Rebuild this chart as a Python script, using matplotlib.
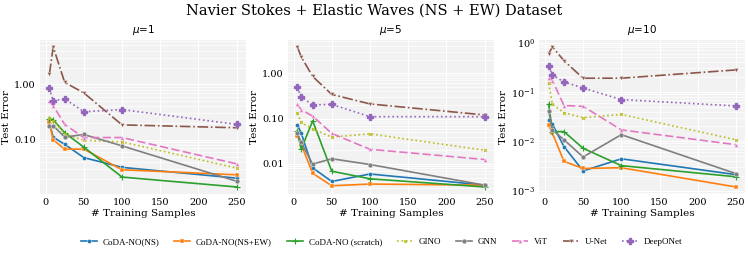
import matplotlib
matplotlib.use("Agg")
import matplotlib.pyplot as plt
from matplotlib.ticker import FormatStrFormatter, NullFormatter

x_samples = [5, 10, 25, 50, 100, 250]
mu_titles = [r"$\mu$=1", r"$\mu$=5", r"$\mu$=10"]
models = ["CoDA-NO(NS)", "CoDA-NO(NS+EW)", "CoDA-NO (scratch)", "GINO", "GNN", "ViT", "U-Net", "DeepONet"]

# values per mu panel
mu1 = {
    "CoDA-NO(NS)":       [0.20, 0.112, 0.083, 0.048, 0.032, 0.0205],
    "CoDA-NO(NS+EW)":    [0.206, 0.10, 0.068, 0.068, 0.029, 0.0235],
    "CoDA-NO (scratch)": [0.24, 0.23, 0.134, 0.074, 0.0214, 0.0142],
    "GINO":              [0.25, 0.22, 0.128, 0.098, 0.092, 0.031],
    "GNN":               [0.18, 0.18, 0.112, 0.125, 0.078, 0.018],
    "ViT":               [0.50, 0.41, 0.19, 0.11, 0.11, 0.037],
    "U-Net":             [1.52, 4.7, 1.08, 0.70, 0.186, 0.165],
    "DeepONet":          [0.84, 0.50, 0.55, 0.32, 0.35, 0.19],
}
mu5 = {
    "CoDA-NO(NS)":       [0.073, 0.048, 0.0082, 0.0041, 0.006, 0.0034],
    "CoDA-NO(NS+EW)":    [0.042, 0.027, 0.0062, 0.0033, 0.0036, 0.0034],
    "CoDA-NO (scratch)": [0.054, 0.021, 0.089, 0.0069, 0.0047, 0.0031],
    "GINO":              [0.13, 0.082, 0.059, 0.039, 0.046, 0.020],
    "GNN":               [0.047, 0.030, 0.0099, 0.013, 0.0097, 0.0034],
    "ViT":               [0.21, 0.157, 0.113, 0.047, 0.021, 0.0125],
    "U-Net":             [3.8, 2.3, 0.85, 0.34, 0.21, 0.12],
    "DeepONet":          [0.49, 0.30, 0.20, 0.205, 0.11, 0.11],
}
mu10 = {
    "CoDA-NO(NS)":       [0.027, 0.022, 0.0078, 0.0025, 0.0044, 0.0021],
    "CoDA-NO(NS+EW)":    [0.021, 0.0145, 0.0039, 0.0028, 0.0029, 0.00118],
    "CoDA-NO (scratch)": [0.056, 0.0156, 0.0157, 0.0072, 0.0032, 0.0019],
    "GINO":              [0.15, 0.056, 0.038, 0.030, 0.035, 0.0107],
    "GNN":               [0.041, 0.017, 0.0107, 0.0048, 0.0136, 0.0022],
    "ViT":               [0.19, 0.17, 0.053, 0.051, 0.017, 0.0085],
    "U-Net":             [0.60, 0.82, 0.43, 0.19, 0.19, 0.28],
    "DeepONet":          [0.33, 0.22, 0.16, 0.12, 0.070, 0.052],
}
panels = [mu1, mu5, mu10]

colors = {
    "CoDA-NO(NS)": "#1f77b4", "CoDA-NO(NS+EW)": "#ff7f0e", "CoDA-NO (scratch)": "#2ca02c",
    "GINO": "#bcbd22", "GNN": "#7f7f7f", "ViT": "#e377c2", "U-Net": "#8c564b", "DeepONet": "#9467bd",
}
styles = {
    "CoDA-NO(NS)": ("-", "o", 3), "CoDA-NO(NS+EW)": ("-", "s", 3.5), "CoDA-NO (scratch)": ("-", "+", 4),
    "GINO": (":", "x", 2), "GNN": ("-", "o", 3.5), "ViT": ((0, (5, 2)), "^", 3),
    "U-Net": ("-.", "v", 3), "DeepONet": (":", "P", 4.5),
}

fig = plt.figure(figsize=(7.48, 2.59), dpi=100)
lefts = [0.0535, 0.385, 0.721]
width = 0.2755
bottom, top = 0.251, 0.846
handles = []
for i, data in enumerate(panels):
    ax = fig.add_axes([lefts[i], bottom, width, top - bottom])
    ax.set_facecolor("#f2f2f2")
    for s in ax.spines.values():
        s.set_visible(False)
    handles = []
    for m in models:
        ls, mk, ms = styles[m]
        if mk in "+xP":
            mew, mec = (0.8 if mk != "P" else 1.0), colors[m]
        else:
            mew, mec = 0.3, "white"
        h, = ax.plot(x_samples, data[m], linestyle=ls, marker=mk, markersize=ms,
                     color=colors[m], linewidth=1.2, label=m,
                     markeredgewidth=mew, markeredgecolor=mec)
        handles.append(h)
    ax.set_yscale("log")
    ax.grid(True, which="major", color="white", linewidth=0.8)
    ax.grid(True, which="minor", color="white", linewidth=0.5)
    ax.set_axisbelow(True)
    ax.tick_params(which="both", length=0, labelsize=7, pad=3)
    if i < 2:
        ax.yaxis.set_major_formatter(FormatStrFormatter("%.2f"))
        ax.yaxis.set_minor_formatter(NullFormatter())
    ax.set_xticks([0, 50, 100, 150, 200, 250])
    ax.set_xlabel("# Training Samples", family="DejaVu Serif", fontsize=7.5, labelpad=1)
    ax.set_ylabel("Test Error", family="DejaVu Serif", fontsize=7.5, labelpad=2)
    ax.set_title(mu_titles[i], fontsize=7.5, pad=5)
    for lab in ax.get_xticklabels() + ax.get_yticklabels():
        lab.set_family("DejaVu Serif")

fig.suptitle("Navier Stokes + Elastic Waves (NS + EW) Dataset", family="DejaVu Serif",
             fontsize=10.5, y=0.985)
fig.legend(handles, models, loc="center", bbox_to_anchor=(0.51, 0.065), ncol=8, frameon=False,
           prop={"family": "Liberation Serif", "size": 6.5}, handlelength=1.75, columnspacing=1.65,
           handletextpad=0.65)
fig.savefig("out.png", dpi=100)
